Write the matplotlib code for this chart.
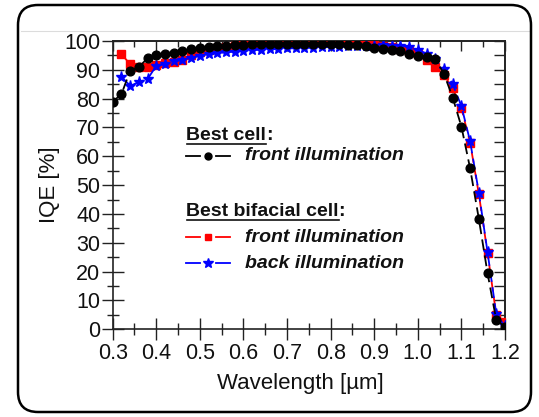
import matplotlib
matplotlib.use("Agg")
import matplotlib.pyplot as plt
import matplotlib.transforms as mtransforms
from matplotlib.patches import FancyBboxPatch
from matplotlib.lines import Line2D
from matplotlib.ticker import MultipleLocator

plt.rcParams['font.family'] = ['Liberation Sans', 'DejaVu Sans']

# ---- data ----
wl_best = [0.30, 0.32, 0.34, 0.36, 0.38, 0.40, 0.42, 0.44, 0.46, 0.48,
           0.50, 0.52, 0.54, 0.56, 0.58, 0.60, 0.62, 0.64, 0.66, 0.68,
           0.70, 0.72, 0.74, 0.76, 0.78, 0.80, 0.82, 0.84, 0.86, 0.88,
           0.90, 0.92, 0.94, 0.96, 0.98, 1.00, 1.02, 1.04, 1.06, 1.08,
           1.10, 1.12, 1.14, 1.16, 1.18, 1.20]
iqe_best_front = [79.0, 81.5, 89.7, 91.0, 94.0, 95.0, 95.4, 96.0, 96.6, 97.2,
                  97.7, 97.9, 98.1, 98.3, 98.5, 98.7, 98.8, 98.9, 99.0, 99.0,
                  99.0, 99.0, 99.0, 99.0, 99.0, 98.9, 98.8, 98.7, 98.5, 98.2,
                  97.7, 97.2, 96.9, 96.5, 95.5, 94.9, 94.4, 93.8, 88.6, 80.4,
                  70.3, 55.8, 38.3, 19.4, 3.2, 0.9]

wl_bif = [0.32, 0.34, 0.36, 0.38, 0.40, 0.42, 0.44, 0.46, 0.48,
          0.50, 0.52, 0.54, 0.56, 0.58, 0.60, 0.62, 0.64, 0.66, 0.68,
          0.70, 0.72, 0.74, 0.76, 0.78, 0.80, 0.82, 0.84, 0.86, 0.88,
          0.90, 0.92, 0.94, 0.96, 0.98, 1.00, 1.02, 1.04, 1.06, 1.08,
          1.10, 1.12, 1.14, 1.16, 1.18, 1.20]
iqe_bif_front = [95.5, 91.9, 90.9, 91.1, 91.7, 92.2, 92.8, 93.4, 95.3,
                 96.3, 97.0, 97.5, 98.0, 98.3, 98.6, 98.8, 99.0, 99.1, 99.2,
                 99.3, 99.4, 99.5, 99.5, 99.6, 99.6, 99.6, 99.5, 99.4, 99.2,
                 98.9, 98.4, 97.8, 97.2, 96.4, 95.4, 93.4, 91.1, 88.2, 83.6,
                 76.7, 64.7, 46.9, 26.4, 5.0, 2.6]
iqe_bif_back = [87.6, 84.5, 85.7, 86.8, 91.4, 91.9, 93.1, 93.4, 94.2,
                94.9, 95.4, 95.7, 96.1, 96.3, 96.6, 96.8, 97.0, 97.1, 97.3,
                97.4, 97.5, 97.6, 97.7, 97.8, 97.9, 98.0, 98.1, 98.2, 98.3,
                98.4, 98.5, 98.3, 98.4, 97.9, 97.0, 95.6, 93.6, 90.2, 85.0,
                77.4, 65.2, 47.4, 26.7, 5.2, 1.0]

x_ticks = [0.3, 0.4, 0.5, 0.6, 0.7, 0.8, 0.9, 1.0, 1.1, 1.2]
x_ticklabels = ['0.3', '0.4', '0.5', '0.6', '0.7', '0.8', '0.9', '1.0', '1.1', '1.2']
y_ticks = [0, 10, 20, 30, 40, 50, 60, 70, 80, 90, 100]

W, H = 539, 417
fig = plt.figure(figsize=(W / 100, H / 100), dpi=100)
ax = fig.add_axes([112.7 / W, (H - 329.3) / H, (505 - 112.7) / W, (329.3 - 41) / H])

dash = (0, (6, 3))
ax.plot(wl_bif, iqe_bif_front, color='#ff0000', ls=dash, lw=1.3, marker='s', ms=5.5,
        mec='#ff0000', mfc='#ff0000', zorder=3)
ax.plot(wl_bif, iqe_bif_back, color='#0000ff', ls=dash, lw=1.3, marker='*', ms=8,
        mec='#0000ff', mfc='#0000ff', zorder=4)
ax.plot(wl_best, iqe_best_front, color='black', ls=dash, lw=1.3, marker='o', ms=6.3,
        mec='black', mfc='black', zorder=5)

ax.set_xlim(0.3, 1.2)
ax.set_ylim(0, 100)
ax.set_xticks(x_ticks)
ax.set_xticklabels(x_ticklabels)
ax.set_yticks(y_ticks)
ax.xaxis.set_minor_locator(MultipleLocator(0.05))
ax.yaxis.set_minor_locator(MultipleLocator(5))
ax.tick_params(which='major', direction='inout', length=16, width=1.0, labelsize=15.5,
               pad=2, colors='#222222', labelcolor='#111111')
ax.tick_params(which='minor', direction='inout', length=8, width=1.0, colors='#222222')
ax.tick_params(axis='y', which='major', pad=1)
for s in ax.spines.values():
    s.set_linewidth(1.2)
    s.set_color('#222222')

# mirrored inward ticks on top and right
sx = ax.secondary_xaxis('top')
sx.set_xticks(x_ticks)
sx.xaxis.set_minor_locator(MultipleLocator(0.05))
sx.tick_params(which='major', direction='in', length=7, width=1.0, labeltop=False, colors='#222222')
sx.tick_params(which='minor', direction='in', length=4, width=1.0, colors='#222222')
sx.set_xticklabels([])
sy = ax.secondary_yaxis('right')
sy.set_yticks(y_ticks)
sy.yaxis.set_minor_locator(MultipleLocator(5))
sy.tick_params(which='major', direction='in', length=8, width=1.0, labelright=False, colors='#222222')
sy.tick_params(which='minor', direction='in', length=8, width=1.0, colors='#222222')
sy.set_yticklabels([])
for s in list(sx.spines.values()) + list(sy.spines.values()):
    s.set_linewidth(1.2)
    s.set_color('#222222')

# axis labels
fig.text(300 / W, 1 - 383 / H, 'Wavelength [µm]', ha='center', va='center', fontsize=16, color='#111111')
fig.text(50 / W, 1 - 185 / H, 'IQE [%]', ha='center', va='center', rotation=90, fontsize=16, color='#111111')

# custom legend
def px2data(px, py):
    return ax.transData.inverted().transform((px, H - py))

def sample(py, color, marker, ms):
    xa, y0 = px2data(186, py)
    xb, _ = px2data(200, py)
    xc, _ = px2data(216, py)
    xd, _ = px2data(230, py)
    xm, _ = px2data(208, py)
    ax.add_line(Line2D([xa, xb], [y0, y0], color=color, lw=1.3, zorder=6))
    ax.add_line(Line2D([xc, xd], [y0, y0], color=color, lw=1.3, zorder=6))
    ax.add_line(Line2D([xm], [y0], color=color, marker=marker, ms=ms, ls='none', zorder=7))

lx, ly = px2data(186, 136)
t1 = ax.text(lx, ly, 'Best cell', fontsize=14, fontweight='bold', ha='left', va='center', color='#111111')
t1b = ax.text(0, 0, ':', fontsize=14, fontweight='bold', ha='left', va='center', color='#111111')
lx2, ly2 = px2data(186, 212)
t2 = ax.text(lx2, ly2, 'Best bifacial cell', fontsize=14, fontweight='bold', ha='left', va='center', color='#111111')
t2b = ax.text(0, 0, ':', fontsize=14, fontweight='bold', ha='left', va='center', color='#111111')

for py, txt in [(156, 'front illumination'), (237, 'front illumination'), (263, 'back illumination')]:
    tx, ty = px2data(245, py)
    ax.text(tx, ty, txt, fontsize=14, fontweight='bold', fontstyle='italic', ha='left', va='center', color='#111111')

sample(156, 'black', 'o', 5)
sample(237, '#ff0000', 's', 5)
sample(263, '#0000ff', '*', 7)

# rounded frame and faint top line
frame = FancyBboxPatch((18, 5), 513, 407, boxstyle='round,pad=0,rounding_size=20',
                       transform=mtransforms.IdentityTransform(), fill=False,
                       edgecolor='black', linewidth=1.8, zorder=10)
fig.patches.append(frame)
fig.lines.append(Line2D([21, 529], [H - 31, H - 31], color='#dcdcdc', lw=0.8,
                        transform=mtransforms.IdentityTransform()))

fig.canvas.draw()
r = fig.canvas.get_renderer()
for t, tb in [(t1, t1b), (t2, t2b)]:
    bb = t.get_window_extent(r)
    cx, cy = ax.transData.inverted().transform((bb.x1, (bb.y0 + bb.y1) / 2))
    tb.set_position((cx, t.get_position()[1]))
    yline = bb.y0 + 1
    fig.lines.append(Line2D([bb.x0 + 1, bb.x1], [yline, yline], color='#111111', lw=1.2,
                            transform=mtransforms.IdentityTransform()))

fig.savefig('out.png', dpi=100)
